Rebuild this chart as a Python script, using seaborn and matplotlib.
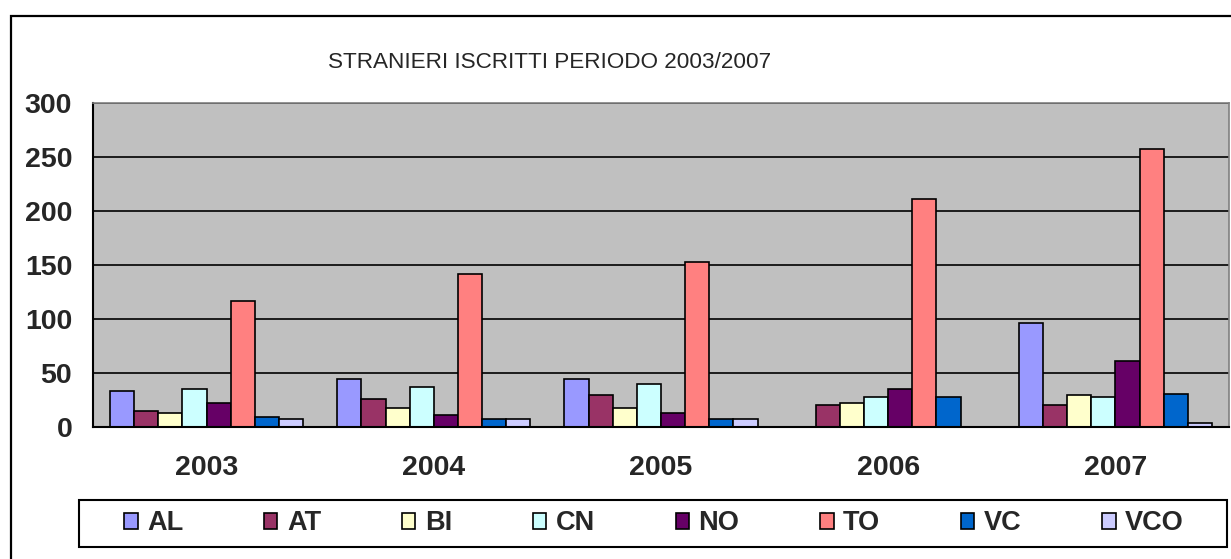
import pandas as pd
import seaborn as sns
import matplotlib.pyplot as plt
from matplotlib.patches import Rectangle

years = ['2003', '2004', '2005', '2006', '2007']
provinces = ['AL', 'AT', 'BI', 'CN', 'NO', 'TO', 'VC', 'VCO']

al = [33, 44, 44, 0, 96]
at = [15, 26, 30, 20, 20]
bi = [13, 18, 18, 22, 30]
cn = [35, 37, 40, 28, 28]
no = [22, 11, 13, 35, 61]
to = [117, 142, 153, 211, 257]
vc = [9, 7, 7, 28, 31]
vco = [7, 7, 7, 0, 4]

colors = ['#9999FF', '#993366', '#FFFFCC', '#CCFFFF', '#660066', '#FF8080', '#0066CC', '#CCCCFF']

series = dict(zip(provinces, [al, at, bi, cn, no, to, vc, vco]))
rows = []
for prov, vals in series.items():
    for y, v in zip(years, vals):
        rows.append({'Anno': y, 'Provincia': prov, 'Iscritti': v})
df = pd.DataFrame(rows)

sns.set_style('white')
plt.rcParams['font.family'] = ['Liberation Sans', 'DejaVu Sans']

W, H = 1231, 559
fig = plt.figure(figsize=(W / 100, H / 100), dpi=100)
ax = fig.add_axes([93 / W, 1 - 427 / H, (1229 - 93) / W, (427 - 103) / H])
ax.set_facecolor('#C0C0C0')

sns.barplot(data=df, x='Anno', y='Iscritti', hue='Provincia', order=years,
            hue_order=provinces, palette=dict(zip(provinces, colors)),
            width=0.85, edgecolor='black', linewidth=1.2, saturation=1,
            legend=False, ax=ax)

ax.set_ylim(0, 300)
ax.set_xlim(-0.5, 4.5)
ax.set_yticks(range(0, 301, 50))
ax.set_yticks([], minor=True)
ax.yaxis.grid(True, color='black', linewidth=1.2)
ax.set_axisbelow(True)
ax.set_xlabel('')
ax.set_ylabel('')

ax.set_xticks(range(5))
ax.set_xticklabels(years, fontsize=20.5, fontweight='bold')
ax.set_xticks([i - 0.5 for i in range(6)], minor=True)
ax.tick_params(axis='x', which='major', length=0, pad=20.5)
ax.tick_params(axis='x', which='minor', length=6, width=1.2, color='black', direction='out')
ax.tick_params(axis='y', length=6, width=1.2, color='black', direction='out', pad=9,
               labelsize=20.5)
for lbl in ax.get_yticklabels():
    lbl.set_fontweight('bold')

for side in ['left', 'bottom']:
    ax.spines[side].set_color('black')
    ax.spines[side].set_linewidth(1.5)
for side in ['top', 'right']:
    ax.spines[side].set_color('#808080')
    ax.spines[side].set_linewidth(1.2)

fig.text(550 / W, 1 - 62 / H, 'STRANIERI ISCRITTI PERIODO 2003/2007',
         ha='center', va='center', fontsize=16.2)

# outer chart border (runs off right and bottom edges)
fig.patches.append(Rectangle((11 / W, -0.2), 1.5, 1.2 - 16 / H, transform=fig.transFigure,
                             fill=False, edgecolor='black', linewidth=1.6, clip_on=False))

# legend box drawn separately, entries spread inside it
fig.patches.append(Rectangle((79 / W, 1 - 547 / H), (1227 - 79) / W, 47 / H,
                             transform=fig.transFigure, fill=False, edgecolor='black',
                             linewidth=1.5))
handles = [Rectangle((0, 0), 1, 1, facecolor=c, edgecolor='black', linewidth=1.2) for c in colors]
leg = fig.legend(handles, provinces, ncol=8, mode='expand',
                 bbox_to_anchor=(124 / W, 1 - 547 / H, (1184 - 124) / W, 47 / H),
                 loc='center', frameon=False,
                 prop={'weight': 'bold', 'size': 19.5}, handlelength=0.5,
                 handleheight=0.55, handletextpad=0.35, borderaxespad=0, borderpad=0)

fig.savefig('out.png', dpi=100)
